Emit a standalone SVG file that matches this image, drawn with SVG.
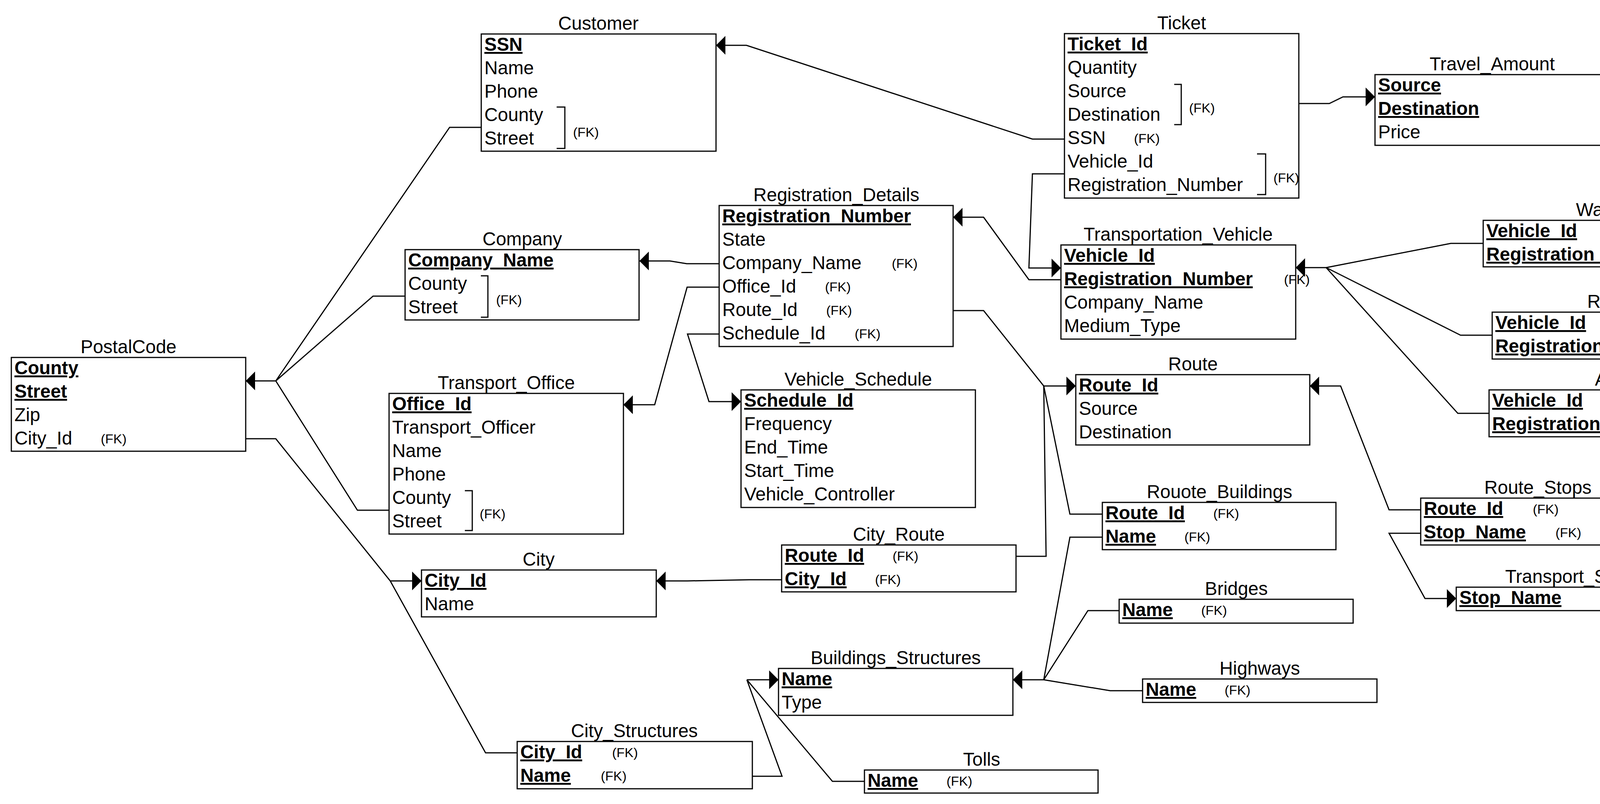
<svg xmlns="http://www.w3.org/2000/svg" width="4448" height="2058" viewBox="0 0 4448 2058">
<style>
.box{fill:#fff;stroke:#000;stroke-width:3}
.t{font-family:"Liberation Sans",Arial,Helvetica,sans-serif;font-size:47.5px;fill:#000}
.ttl{text-anchor:middle}
.pk{font-weight:bold;text-decoration:underline;text-underline-offset:8px;text-decoration-thickness:3px}
.fk{font-size:34px}
.br{fill:none;stroke:#000;stroke-width:3}
.c{fill:none;stroke:#000;stroke-width:3;stroke-linejoin:miter}
.a{marker-end:url(#arr)}
</style>
<defs>
<marker id="arr" markerUnits="userSpaceOnUse" markerWidth="24" markerHeight="48" viewBox="0 0 24 48" refX="24" refY="24" orient="auto"><path d="M0,0 L24,24 L0,48 Z" fill="#000"/></marker>
<clipPath id="clip"><rect x="0" y="0" width="4423" height="2058"/></clipPath>
</defs>
<rect width="4448" height="2058" fill="#fff"/>
<g clip-path="url(#clip)">
<g id="nodes">
<g id="customer" transform="translate(1232,87)">
<text class="t ttl" x="300" y="-11">Customer</text>
<rect class="box" width="601" height="300"/>
<text class="t pk" x="8" y="43">SSN</text>
<text class="t" x="8" y="103">Name</text>
<text class="t" x="8" y="163">Phone</text>
<text class="t" x="8" y="223">County</text>
<text class="t" x="8" y="283">Street</text>
<path class="br" d="M193,187 H214 V293 H193"/>
<text class="t fk" x="235" y="263">(FK)</text>
</g>
<g id="ticket" transform="translate(2725,86)">
<text class="t ttl" x="300" y="-11">Ticket</text>
<rect class="box" width="600" height="421"/>
<text class="t pk" x="8" y="43">Ticket_Id</text>
<text class="t" x="8" y="103">Quantity</text>
<text class="t" x="8" y="163">Source</text>
<text class="t" x="8" y="223">Destination</text>
<text class="t" x="8" y="283">SSN</text>
<text class="t" x="8" y="343">Vehicle_Id</text>
<text class="t" x="8" y="403">Registration_Number</text>
<path class="br" d="M281,130 H299 V233 H281"/>
<text class="t fk" x="319" y="202">(FK)</text>
<text class="t fk" x="178" y="280">(FK)</text>
<path class="br" d="M493,308 H515 V412 H493"/>
<text class="t fk" x="535" y="381">(FK)</text>
</g>
<g id="travel_amount" transform="translate(3520,191)">
<text class="t ttl" x="300" y="-11">Travel_Amount</text>
<rect class="box" width="601" height="181"/>
<text class="t pk" x="8" y="43">Source</text>
<text class="t pk" x="8" y="103">Destination</text>
<text class="t" x="8" y="163">Price</text>
</g>
<g id="registration_details" transform="translate(1841,526)">
<text class="t ttl" x="300" y="-11">Registration_Details</text>
<rect class="box" width="599" height="361"/>
<text class="t pk" x="8" y="43">Registration_Number</text>
<text class="t" x="8" y="103">State</text>
<text class="t" x="8" y="163">Company_Name</text>
<text class="t" x="8" y="223">Office_Id</text>
<text class="t" x="8" y="283">Route_Id</text>
<text class="t" x="8" y="343">Schedule_Id</text>
<text class="t fk" x="442" y="160">(FK)</text>
<text class="t fk" x="271" y="220">(FK)</text>
<text class="t fk" x="274" y="280">(FK)</text>
<text class="t fk" x="347" y="340">(FK)</text>
</g>
<g id="company" transform="translate(1037,639)">
<text class="t ttl" x="300" y="-11">Company</text>
<rect class="box" width="599" height="180"/>
<text class="t pk" x="8" y="43">Company_Name</text>
<text class="t" x="8" y="103">County</text>
<text class="t" x="8" y="163">Street</text>
<path class="br" d="M194,67 H212 V173 H194"/>
<text class="t fk" x="233" y="140">(FK)</text>
</g>
<g id="postalcode" transform="translate(29,915)">
<text class="t ttl" x="300" y="-11">PostalCode</text>
<rect class="box" width="600" height="240"/>
<text class="t pk" x="8" y="43">County</text>
<text class="t pk" x="8" y="103">Street</text>
<text class="t" x="8" y="163">Zip</text>
<text class="t" x="8" y="223">City_Id</text>
<text class="t fk" x="229" y="220">(FK)</text>
</g>
<g id="transport_office" transform="translate(996,1007)">
<text class="t ttl" x="300" y="-11">Transport_Office</text>
<rect class="box" width="600" height="360"/>
<text class="t pk" x="8" y="43">Office_Id</text>
<text class="t" x="8" y="103">Transport_Officer</text>
<text class="t" x="8" y="163">Name</text>
<text class="t" x="8" y="223">Phone</text>
<text class="t" x="8" y="283">County</text>
<text class="t" x="8" y="343">Street</text>
<path class="br" d="M194,249 H213 V351 H194"/>
<text class="t fk" x="232" y="320">(FK)</text>
</g>
<g id="vehicle_schedule" transform="translate(1897,998)">
<text class="t ttl" x="300" y="-11">Vehicle_Schedule</text>
<rect class="box" width="600" height="301"/>
<text class="t pk" x="8" y="43">Schedule_Id</text>
<text class="t" x="8" y="103">Frequency</text>
<text class="t" x="8" y="163">End_Time</text>
<text class="t" x="8" y="223">Start_Time</text>
<text class="t" x="8" y="283">Vehicle_Controller</text>
</g>
<g id="transportation_vehicle" transform="translate(2716,627)">
<text class="t ttl" x="300" y="-11">Transportation_Vehicle</text>
<rect class="box" width="601" height="241"/>
<text class="t pk" x="8" y="43">Vehicle_Id</text>
<text class="t pk" x="8" y="103">Registration_Number</text>
<text class="t" x="8" y="163">Company_Name</text>
<text class="t" x="8" y="223">Medium_Type</text>
<text class="t fk" x="571" y="100">(FK)</text>
</g>
<g id="water" transform="translate(3797,564)">
<text class="t ttl" x="300" y="-11">Water</text>
<rect class="box" width="600" height="119"/>
<text class="t pk" x="8" y="43">Vehicle_Id</text>
<text class="t pk" x="8" y="103">Registration_Number</text>
<path class="br" d="M529,7 H550 V112 H529"/>
<text class="t fk" x="570" y="80">(FK)</text>
</g>
<g id="road" transform="translate(3820,799)">
<text class="t ttl" x="300" y="-11">Road</text>
<rect class="box" width="601" height="120"/>
<text class="t pk" x="8" y="43">Vehicle_Id</text>
<text class="t pk" x="8" y="103">Registration_Number</text>
<path class="br" d="M529,7 H550 V112 H529"/>
<text class="t fk" x="571" y="82">(FK)</text>
</g>
<g id="air" transform="translate(3812,998)">
<text class="t ttl" x="300" y="-11">Air</text>
<rect class="box" width="601" height="120"/>
<text class="t pk" x="8" y="43">Vehicle_Id</text>
<text class="t pk" x="8" y="103">Registration_Number</text>
<path class="br" d="M530,8 H551 V112 H530"/>
<text class="t fk" x="571" y="82">(FK)</text>
</g>
<g id="route" transform="translate(2754,959)">
<text class="t ttl" x="300" y="-11">Route</text>
<rect class="box" width="599" height="180"/>
<text class="t pk" x="8" y="43">Route_Id</text>
<text class="t" x="8" y="103">Source</text>
<text class="t" x="8" y="163">Destination</text>
</g>
<g id="rouote_buildings" transform="translate(2822,1286)">
<text class="t ttl" x="300" y="-11">Rouote_Buildings</text>
<rect class="box" width="598" height="121"/>
<text class="t pk" x="8" y="43">Route_Id</text>
<text class="t pk" x="8" y="103">Name</text>
<text class="t fk" x="284" y="40">(FK)</text>
<text class="t fk" x="210" y="100">(FK)</text>
</g>
<g id="route_stops" transform="translate(3637,1275)">
<text class="t ttl" x="300" y="-11">Route_Stops</text>
<rect class="box" width="600" height="120"/>
<text class="t pk" x="8" y="43">Route_Id</text>
<text class="t pk" x="8" y="103">Stop_Name</text>
<text class="t fk" x="287" y="40">(FK)</text>
<text class="t fk" x="345" y="100">(FK)</text>
</g>
<g id="transport_stops" transform="translate(3728,1503)">
<text class="t ttl" x="300" y="-11">Transport_Stops</text>
<rect class="box" width="601" height="60"/>
<text class="t pk" x="8" y="43">Stop_Name</text>
</g>
<g id="city" transform="translate(1079,1459)">
<text class="t ttl" x="300" y="-11">City</text>
<rect class="box" width="601" height="120"/>
<text class="t pk" x="8" y="43">City_Id</text>
<text class="t" x="8" y="103">Name</text>
</g>
<g id="city_route" transform="translate(2001,1395)">
<text class="t ttl" x="300" y="-11">City_Route</text>
<rect class="box" width="600" height="120"/>
<text class="t pk" x="8" y="43">Route_Id</text>
<text class="t pk" x="8" y="103">City_Id</text>
<text class="t fk" x="284" y="40">(FK)</text>
<text class="t fk" x="239" y="100">(FK)</text>
</g>
<g id="bridges" transform="translate(2865,1534)">
<text class="t ttl" x="300" y="-11">Bridges</text>
<rect class="box" width="599" height="61"/>
<text class="t pk" x="8" y="43">Name</text>
<text class="t fk" x="210" y="40">(FK)</text>
</g>
<g id="highways" transform="translate(2925,1738)">
<text class="t ttl" x="300" y="-11">Highways</text>
<rect class="box" width="600" height="60"/>
<text class="t pk" x="8" y="43">Name</text>
<text class="t fk" x="210" y="40">(FK)</text>
</g>
<g id="buildings_structures" transform="translate(1993,1711)">
<text class="t ttl" x="300" y="-11">Buildings_Structures</text>
<rect class="box" width="600" height="120"/>
<text class="t pk" x="8" y="43">Name</text>
<text class="t" x="8" y="103">Type</text>
</g>
<g id="city_structures" transform="translate(1324,1898)">
<text class="t ttl" x="300" y="-11">City_Structures</text>
<rect class="box" width="602" height="121"/>
<text class="t pk" x="8" y="43">City_Id</text>
<text class="t pk" x="8" y="103">Name</text>
<text class="t fk" x="243" y="40">(FK)</text>
<text class="t fk" x="214" y="100">(FK)</text>
</g>
<g id="tolls" transform="translate(2213,1971)">
<text class="t ttl" x="300" y="-11">Tolls</text>
<rect class="box" width="598" height="59"/>
<text class="t pk" x="8" y="43">Name</text>
<text class="t fk" x="210" y="40">(FK)</text>
</g>
</g>
<g id="connectors">
<path class="c a" d="M2725,356 H2643 L1911,116 H1833"/>
<path class="c a" d="M3325,265 H3403 L3438,248 H3520"/>
<path class="c a" d="M2725,445 H2643 L2634,686 H2716"/>
<path class="c a" d="M2716,716 H2634 L2518,556 H2440"/>
<path class="c a" d="M1841,675 H1758 L1715,668 H1637"/>
<path class="c a" d="M1841,735 H1759 L1676,1036 H1596"/>
<path class="c a" d="M1841,855 H1760 L1815,1028 H1897"/>
<path class="c a" d="M2440,795 H2518 L2672,988 H2754"/>
<path class="c" d="M2601,1424 H2678 L2672,988"/>
<path class="c" d="M2822,1316 H2739 L2672,988"/>
<path class="c a" d="M3637,1305 H3556 L3432,988 H3353"/>
<path class="c a" d="M3637,1365 H3556 L3648,1532 H3728"/>
<path class="c a" d="M3395,685 H3317"/>
<path class="c" d="M3395,685 L3714,623 H3797 M3395,685 L3739,858 H3820 M3395,685 L3732,1058 H3812"/>
<path class="c a" d="M706,975 H629"/>
<path class="c" d="M706,975 L1151,326 H1232 M706,975 L955,758 H1037 M706,975 L915,1306 H996"/>
<path class="c a" d="M629,1123 H706 L999,1487 H1079"/>
<path class="c" d="M1324,1927 H1243 L999,1487"/>
<path class="c a" d="M2001,1484 H1918 L1760,1487 H1680"/>
<path class="c a" d="M2672,1740 H2593"/>
<path class="c" d="M2672,1740 L2739,1375 H2822 M2672,1740 L2785,1563 H2865 M2672,1740 L2842,1768 H2925"/>
<path class="c a" d="M1912,1740 H1993"/>
<path class="c" d="M1912,1740 L2002,1987 H1926 M1912,1740 L2131,2000 H2213"/>
</g>
</g>
</svg>
